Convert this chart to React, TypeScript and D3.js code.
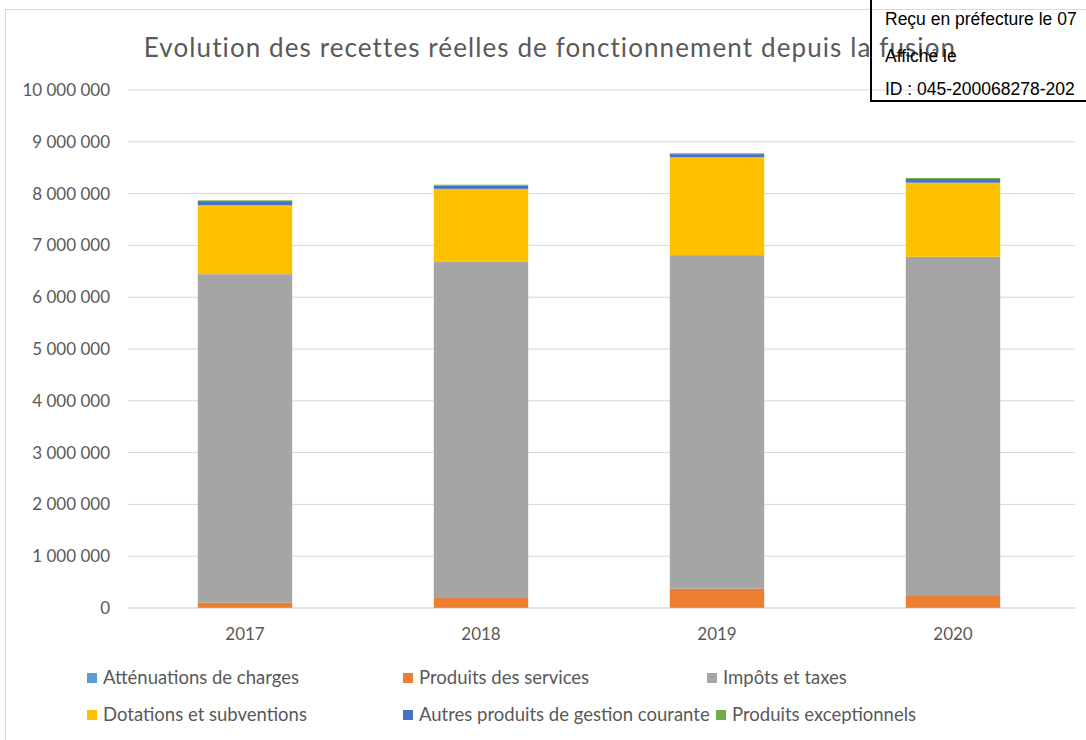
import React from "react";
import * as d3 from "d3";

const years = ["2017", "2018", "2019", "2020"];
const attenuations = [5000, 5000, 5000, 5000];
const produitsServices = [100000, 187000, 367000, 226000];
const impots = [6340000, 6500000, 6440000, 6550000];
const dotations = [1330000, 1400000, 1890000, 1430000];
const autresProduits = [80000, 60000, 60000, 70000];
const exceptionnels = [15000, 20000, 15000, 20000];
const yTicks = [0, 1000000, 2000000, 3000000, 4000000, 5000000, 6000000, 7000000, 8000000, 9000000, 10000000];

const seriesNames = [
  "Atténuations de charges",
  "Produits des services",
  "Impôts et taxes",
  "Dotations et subventions",
  "Autres produits de gestion courante",
  "Produits exceptionnels",
];
const seriesValues = [attenuations, produitsServices, impots, dotations, autresProduits, exceptionnels];
const colors = ["#5B9BD5", "#ED7D31", "#A5A5A5", "#FFC000", "#4472C4", "#70AD47"];

const W = 1086;
const H = 740;
const FONT = "Lato, 'Open Sans', sans-serif";

function fmt(v: number) {
  return d3.format(",")(v).replace(/,/g, " ");
}

export default function App() {
  const rows = years.map((y, i) => {
    const r: any = { year: y };
    seriesNames.forEach((n, j) => (r[n] = seriesValues[j][i]));
    return r;
  });
  const stack = d3.stack<any>().keys(seriesNames)(rows);

  const x = d3.scaleBand().domain(years).range([127, 1071]).paddingInner(0.6).paddingOuter(0.3);
  const y = d3.scaleLinear().domain([0, 10000000]).range([608, 90]);

  const legendPos = [
    { x: 87, y: 684 },
    { x: 403, y: 684 },
    { x: 707, y: 684 },
    { x: 87, y: 721 },
    { x: 403, y: 721 },
    { x: 716, y: 721 },
  ];

  return (
    <svg width={W} height={H} style={{ position: "absolute", left: 0, top: 0 }} fontFamily={FONT}>
      <rect x={0} y={0} width={W} height={H} fill="#fff" />
      <rect x={5.5} y={9.5} width={W} height={H} fill="#fff" stroke="#d9d9d9" strokeWidth={1} />
      <text x={550} y={57} textAnchor="middle" fontSize={26} letterSpacing={1.1} fill="#595959">
        Evolution des recettes réelles de fonctionnement depuis la fusion
      </text>
      {yTicks.map((t) => (
        <g key={t}>
          <line x1={128} x2={1075} y1={y(t)} y2={y(t)} stroke="#d9d9d9" strokeWidth={t === 0 ? 1.5 : 1} />
          <text x={110} y={y(t) + 6} textAnchor="end" fontSize={17} fill="#595959">
            {fmt(t)}
          </text>
        </g>
      ))}
      {stack.map((s, j) => (
        <g key={s.key} fill={colors[j]}>
          {s.map((d, i) => (
            <rect
              key={i}
              x={x(years[i])}
              width={x.bandwidth()}
              y={y(d[1])}
              height={Math.max(0, y(d[0]) - y(d[1]))}
            />
          ))}
        </g>
      ))}
      {years.map((yr) => (
        <text key={yr} x={(x(yr) as number) + x.bandwidth() / 2} y={640} textAnchor="middle" fontSize={17} fill="#595959">
          {yr}
        </text>
      ))}
      {seriesNames.map((n, j) => (
        <g key={n}>
          <rect x={legendPos[j].x} y={legendPos[j].y - 11} width={10} height={10} fill={colors[j]} />
          <text x={legendPos[j].x + 16} y={legendPos[j].y} fontSize={18.5} fill="#595959">
            {n}
          </text>
        </g>
      ))}
      <rect x={871} y={-5} width={230} height={106} fill="none" stroke="#000" strokeWidth={2} />
      <g fontFamily="'Liberation Sans', Arial, sans-serif" fontSize={17.5} fill="#000">
        <text x={885} y={25}>Reçu en préfecture le 07</text>
        <text x={885} y={62}>Affiché le</text>
        <text x={885} y={95}>ID : 045-200068278-202</text>
      </g>
    </svg>
  );
}
